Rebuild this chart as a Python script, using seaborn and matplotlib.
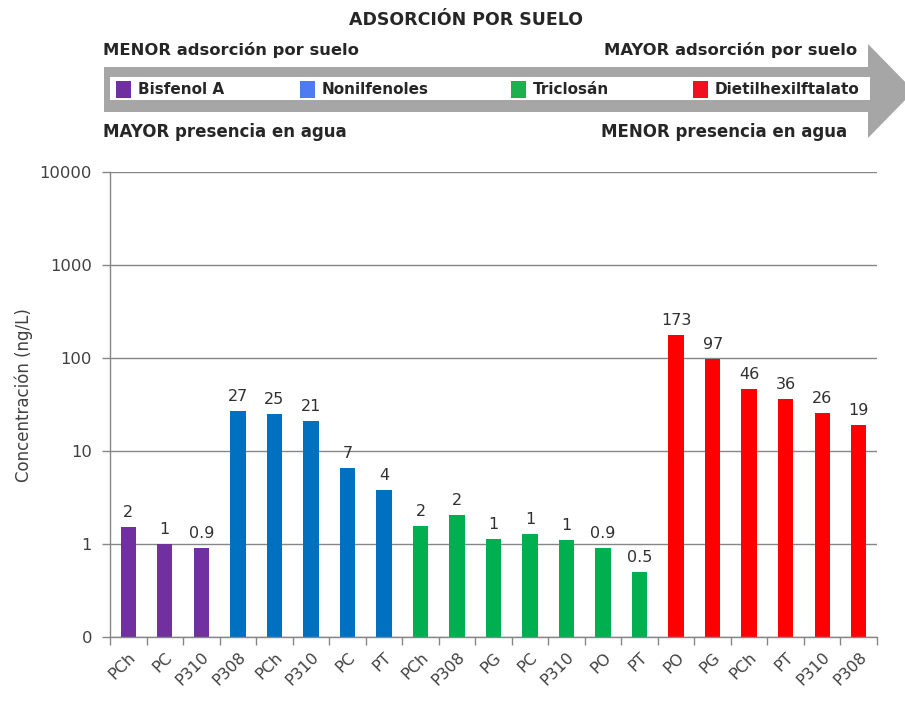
import matplotlib
matplotlib.use("Agg")
import matplotlib.pyplot as plt
from matplotlib.patches import Polygon, Rectangle
from matplotlib.ticker import FixedLocator, NullLocator
import seaborn as sns
import pandas as pd
import numpy as np

# ---------------- data ----------------
sites = ["PCh", "PC", "P310",
         "P308", "PCh", "P310", "PC", "PT",
         "PCh", "P308", "PG", "PC", "P310", "PO", "PT",
         "PO", "PG", "PCh", "PT", "P310", "P308"]
compounds = (["Bisfenol A"] * 3 + ["Nonilfenoles"] * 5 +
             ["Triclosán"] * 7 + ["Dietilhexilftalato"] * 6)
values = [1.52, 1.0, 0.9,
          27, 25, 21, 6.5, 3.8,
          1.56, 2.05, 1.13, 1.28, 1.1, 0.9, 0.5,
          175, 97, 46, 36, 25.5, 19]
value_labels = ["2", "1", "0.9",
                "27", "25", "21", "7", "4",
                "2", "2", "1", "1", "1", "0.9", "0.5",
                "173", "97", "46", "36", "26", "19"]
compound_order = ["Bisfenol A", "Nonilfenoles", "Triclosán", "Dietilhexilftalato"]
bar_colors = ["#7030A0", "#0070C0", "#00B050", "#FF0000"]
legend_colors = ["#7030A0", "#4F7BF0", "#1DB04F", "#F01020"]
y_ticks = [0.1, 1, 10, 100, 1000, 10000]
y_tick_labels = ["0", "1", "10", "100", "1000", "10000"]

df = pd.DataFrame({"pos": list(range(len(values))), "site": sites,
                   "compound": compounds, "value": values})

sns.set_theme(style="white")
plt.rcParams["font.family"] = ["DejaVu Sans"]

W, H = 905, 704
fig = plt.figure(figsize=(W / 100, H / 100), dpi=100)
fig.patch.set_facecolor("white")

def fx(px):
    return px / W

def fy(py):
    return 1 - py / H

left, right, top, bottom = 110, 877, 172, 637
ax = fig.add_axes([fx(left), fy(bottom), fx(right) - fx(left), (bottom - top) / H])

sns.barplot(data=df, x="pos", y="value", hue="compound", hue_order=compound_order,
            palette=bar_colors, dodge=False, width=0.42, legend=False,
            saturation=1, ax=ax, linewidth=0)
ax.set_yscale("log")

ax.set_ylim(0.1, 10000)
ax.set_xlim(-0.5, len(values) - 0.5)
ax.yaxis.set_major_locator(FixedLocator(y_ticks))
ax.yaxis.set_minor_locator(NullLocator())
ax.set_yticklabels(y_tick_labels)
ax.tick_params(axis="y", which="major", length=6, width=1, color="#868686",
               direction="out", labelsize=11.8, labelcolor="#404040", left=True, pad=7)
ax.grid(axis="y", which="major", color="#868686", linewidth=1)
ax.set_axisbelow(True)

ax.set_xticks(range(len(values)))
ax.set_xticklabels(sites, rotation=45, ha="right", rotation_mode="anchor",
                   fontsize=11.5, color="#404040")
ax.set_xticks(np.arange(-0.5, len(values) + 0.5, 1), minor=True)
ax.tick_params(axis="x", which="major", length=0, pad=9)
ax.tick_params(axis="x", which="minor", length=6, width=1, color="#868686",
               direction="out", bottom=True)

for s in ["top", "right"]:
    ax.spines[s].set_visible(False)
for s in ["left", "bottom"]:
    ax.spines[s].set_color("#868686")
    ax.spines[s].set_linewidth(1)

ax.set_xlabel("")
ax.set_ylabel("Concentración (ng/L)", fontsize=12, color="#404040")
ax.yaxis.set_label_coords(-0.1, 0.52)

for i, (v, t) in enumerate(zip(values, value_labels)):
    ax.annotate(t, (i, v), xytext=(0, 5), textcoords="offset points",
                ha="center", va="bottom", fontsize=11.5, color="#303030")

# ---------------- header with arrow ----------------
hax = fig.add_axes([0, 0, 1, 1], zorder=-1)
hax.set_xlim(0, W)
hax.set_ylim(H, 0)
hax.axis("off")

arrow = Polygon([(104, 67), (868, 67), (868, 44), (914, 91), (868, 138),
                 (868, 112), (104, 112)], closed=True, facecolor="#A6A6A6",
                edgecolor="none")
hax.add_patch(arrow)
hax.add_patch(Rectangle((110, 77), 760, 23, facecolor="white", edgecolor="none"))

txt_kw = dict(color="#262626", fontweight="bold")
hax.text(466, 20, "ADSORCIÓN POR SUELO", ha="center", va="center",
         fontsize=12.5, **txt_kw)
hax.text(103, 50, "MENOR adsorción por suelo", ha="left", va="center",
         fontsize=11.8, **txt_kw)
hax.text(857, 50, "MAYOR adsorción por suelo", ha="right", va="center",
         fontsize=11.8, **txt_kw)
hax.text(103, 132, "MAYOR presencia en agua", ha="left", va="center",
         fontsize=12, **txt_kw)
hax.text(847, 132, "MENOR presencia en agua", ha="right", va="center",
         fontsize=12, **txt_kw)

legend_x = [116, 300, 511, 693]
for name, col, x0 in zip(compound_order, legend_colors, legend_x):
    hax.add_patch(Rectangle((x0, 81), 15, 17, facecolor=col, edgecolor="none"))
    hax.text(x0 + 22, 89.5, name, ha="left", va="center", fontsize=11,
             **txt_kw)

fig.savefig("out.png", dpi=100, facecolor="white")
